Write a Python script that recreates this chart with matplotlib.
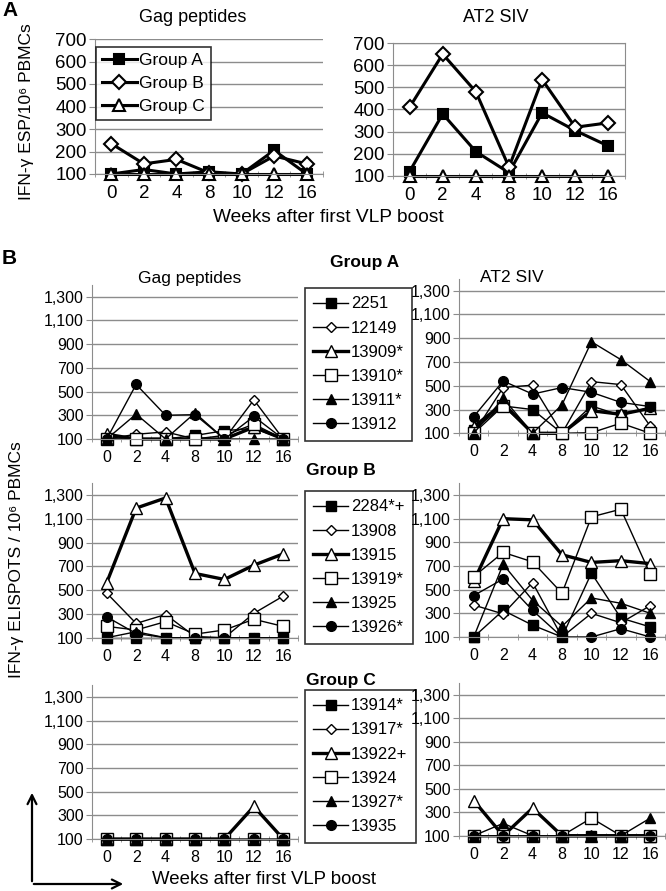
import matplotlib.pyplot as plt
from matplotlib.patches import FancyArrowPatch
from matplotlib.lines import Line2D

plt.rcParams['font.family'] = ['Liberation Sans', 'DejaVu Sans']

W, H = 666, 891

weeks = ['0', '2', '4', '8', '10', '12', '16']

# Panel A - group means
group_names = ['Group A', 'Group B', 'Group C']
a_gag_A = [100, 120, 100, 110, 100, 205, 100]
a_gag_B = [235, 145, 165, 105, 100, 180, 145]
a_gag_C = [100, 100, 100, 100, 100, 100, 100]
a_siv_A = [120, 380, 210, 115, 385, 305, 235]
a_siv_B = [410, 650, 480, 140, 535, 320, 340]
a_siv_C = [100, 100, 100, 100, 100, 100, 100]
a_ticks = [100, 200, 300, 400, 500, 600, 700]

# Panel B - individual animals
ids_A = ['2251', '12149', '13909*', '13910*', '13911*', '13912']
ids_B = ['2284*+', '13908', '13915', '13919*', '13925', '13926*']
ids_C = ['13914*', '13917*', '13922+', '13924', '13927*', '13935']

gag_A = [
    [100, 100, 100, 130, 170, 190, 100],
    [100, 140, 160, 100, 100, 430, 100],
    [140, 100, 100, 100, 100, 200, 100],
    [100, 100, 100, 100, 130, 225, 100],
    [100, 310, 100, 320, 100, 100, 100],
    [100, 560, 300, 305, 100, 290, 100],
]
siv_A = [
    [130, 330, 300, 100, 330, 250, 320],
    [100, 485, 505, 100, 535, 510, 160],
    [155, 350, 100, 100, 290, 260, 310],
    [100, 330, 100, 100, 105, 185, 100],
    [100, 395, 100, 340, 870, 720, 535],
    [240, 540, 430, 485, 445, 360, 325],
]
gag_B = [
    [100, 100, 100, 100, 100, 100, 100],
    [475, 220, 295, 110, 100, 305, 450],
    [563, 1190, 1275, 640, 590, 710, 805],
    [195, 165, 235, 130, 165, 255, 195],
    [100, 150, 100, 100, 100, 100, 100],
    [275, 135, 100, 100, 100, 100, 100],
]
siv_B = [
    [100, 325, 200, 100, 640, 260, 185],
    [370, 295, 560, 100, 300, 220, 365],
    [570, 1100, 1090, 795, 730, 745, 720],
    [610, 815, 735, 470, 1115, 1180, 630],
    [100, 715, 410, 190, 430, 385, 300],
    [450, 590, 325, 100, 100, 170, 100],
]
gag_C = [
    [100, 100, 100, 100, 100, 100, 100],
    [100, 100, 100, 100, 100, 100, 100],
    [100, 100, 100, 100, 100, 375, 100],
    [100, 100, 100, 100, 100, 100, 100],
    [100, 100, 100, 100, 100, 100, 100],
    [100, 100, 100, 100, 100, 100, 100],
]
siv_C = [
    [100, 100, 100, 100, 100, 100, 100],
    [100, 100, 100, 100, 100, 100, 100],
    [400, 100, 335, 100, 100, 100, 100],
    [100, 100, 100, 100, 250, 100, 100],
    [100, 205, 100, 100, 100, 100, 250],
    [100, 100, 100, 100, 100, 100, 100],
]
b_ticks = [100, 300, 500, 700, 900, 1100, 1300]
b_ticklabels = ['100', '300', '500', '700', '900', '1,100', '1,300']

# marker styles for the 6 animals of each group
styles = [
    dict(marker='s', mfc='black', ms=6.5, lw=1.0),
    dict(marker='D', mfc='white', ms=5.5, lw=1.0),
    dict(marker='^', mfc='white', ms=8.5, lw=2.4),
    dict(marker='s', mfc='white', ms=8, lw=1.0),
    dict(marker='^', mfc='black', ms=6.5, lw=1.0),
    dict(marker='o', mfc='black', ms=7, lw=1.0),
]
a_styles = [
    dict(marker='s', mfc='black', ms=7),
    dict(marker='D', mfc='white', ms=7),
    dict(marker='^', mfc='white', ms=9),
]

GRID = '#8c8c8c'

fig = plt.figure(figsize=(W / 100, H / 100), dpi=100)


def add_ax(left, top, right, bottom):
    return fig.add_axes([left / W, 1 - bottom / H, (right - left) / W, (bottom - top) / H])


def ftext(x, y, s, **kw):
    fig.text(x / W, 1 - y / H, s, **kw)


def style_axis(ax, yticks, ylabels, ymax, fs, frame=False):
    ax.set_xlim(-0.5, 6.5)
    ax.set_ylim(100, ymax)
    ax.set_yticks(yticks)
    ax.set_yticklabels(ylabels, fontsize=fs)
    ax.set_xticks(range(len(weeks)))
    ax.set_xticklabels(weeks, fontsize=fs)
    ax.set_xticks([i + 0.5 for i in range(-1, 7)], minor=True)
    ax.tick_params(axis='x', which='major', length=0, pad=8)
    ax.tick_params(axis='x', which='minor', length=5, direction='inout', color=GRID)
    ax.tick_params(axis='y', which='major', length=4, color=GRID, pad=2)
    ax.grid(axis='y', color=GRID, lw=1.0)
    ax.set_axisbelow(True)
    for side in ['left', 'bottom', 'top', 'right']:
        ax.spines[side].set_color(GRID)
    if not frame:
        ax.spines['top'].set_visible(False)
        ax.spines['right'].set_visible(False)


# ---------- Panel A ----------
axA1 = add_ax(95, 39, 323, 174)
axA2 = add_ax(393, 43, 625, 176)
for ax, series, frame in [(axA1, [a_gag_A, a_gag_B, a_gag_C], False),
                          (axA2, [a_siv_A, a_siv_B, a_siv_C], True)]:
    for vals, st, name in zip(series, a_styles, group_names):
        ax.plot(range(len(weeks)), vals, color='black', lw=2.2, mec='black',
                mew=1.5, label=name, clip_on=False, **st)
    style_axis(ax, a_ticks, [str(t) for t in a_ticks], 700, 13.5, frame)

leg = axA1.legend(loc='upper left', bbox_to_anchor=(96 / W, 1 - 47 / H),
                  bbox_transform=fig.transFigure, fontsize=12.5, frameon=True,
                  fancybox=False, edgecolor='black', handlelength=2.0,
                  handletextpad=0.15, labelspacing=0.45, borderpad=0.35,
                  borderaxespad=0)
leg.get_frame().set_linewidth(1.2)

ftext(193, 17, 'Gag peptides', fontsize=13, ha='center', va='center')
ftext(496, 17, 'AT2 SIV', fontsize=13, ha='center', va='center')
ftext(27, 112, 'IFN-\u03b3 ESP/10\u2076 PBMCs', fontsize=12.5, rotation=90,
      ha='center', va='center')
ftext(213, 218, 'Weeks after first VLP boost', fontsize=13.8, ha='left', va='center')
ftext(2, 10, 'A', fontsize=15, fontweight='bold', ha='left', va='center')
ftext(2, 258, 'B', fontsize=15, fontweight='bold', ha='left', va='center')

# ---------- Panel B ----------
rows = [
    ('Group A', ids_A, gag_A, siv_A, (296.7, 439), (290.7, 433.3), 288, 330, 262),
    ('Group B', ids_B, gag_B, siv_B, (495, 637.7), (495, 637), 491, 306, 470),
    ('Group C', ids_C, gag_C, siv_C, (697, 839), (695, 835.7), 690, 306, 680),
]
for gname, ids, gag, siv, lpos, rpos, leg_top, gx, gy in rows:
    axes = []
    for (y13, y1), x0, x1, data in [(lpos, 92, 298, gag), (rpos, 459, 665, siv)]:
        top = y13 - (y1 - y13) / 12
        ax = add_ax(x0, top, x1, y1)
        for vals, st, lab in zip(data, styles, ids):
            ax.plot(range(len(weeks)), vals, color='black', mec='black', mew=1.0,
                    label=lab, clip_on=False, **st)
        style_axis(ax, b_ticks, b_ticklabels, 1400, 11.5)
        axes.append(ax)
    handles = [Line2D([], [], color='black', mec='black', mew=1.0, **st) for st in styles]
    lg = axes[0].legend(handles, ids, loc='upper left',
                        bbox_to_anchor=(305 / W, 1 - leg_top / H),
                        bbox_transform=fig.transFigure, fontsize=12, frameon=True,
                        fancybox=False, edgecolor='black', handlelength=2.1,
                        handletextpad=0.15, labelspacing=0.55, borderpad=0.5,
                        borderaxespad=0)
    lg.get_frame().set_linewidth(1.2)
    ftext(gx, gy, gname, fontsize=12.5, fontweight='bold', ha='left', va='center')

ftext(190, 278, 'Gag peptides', fontsize=12.5, ha='center', va='center')
ftext(512, 278, 'AT2 SIV', fontsize=12.5, ha='center', va='center')
ftext(17, 560, 'IFN-\u03b3 ELISPOTS / 10\u2076 PBMCs', fontsize=12.5, rotation=90,
      ha='center', va='center')
ftext(152, 880, 'Weeks after first VLP boost', fontsize=13.4, ha='left', va='center')

for start, end in [((32, 884), (32, 790)), ((31, 884), (126, 884))]:
    arr = FancyArrowPatch((start[0] / W, 1 - start[1] / H), (end[0] / W, 1 - end[1] / H),
                          transform=fig.transFigure, arrowstyle='->',
                          mutation_scale=16, lw=1.6, color='black')
    fig.patches.append(arr)

fig.savefig('out.png', dpi=100)
